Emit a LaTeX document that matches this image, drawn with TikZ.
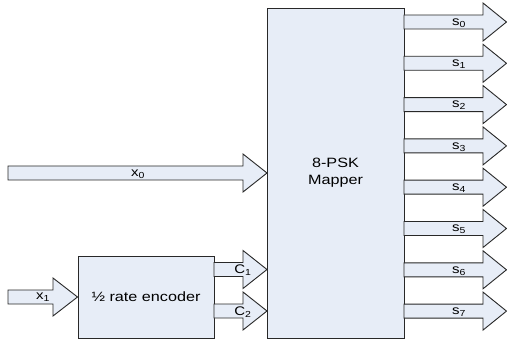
\documentclass[tikz,border=0pt]{standalone}
\usepackage{fontspec}
\setmainfont{Liberation Sans}
\usepackage{graphicx}
\definecolor{boxfill}{RGB}{231,237,247}
\definecolor{boxline}{RGB}{40,40,40}
\newcommand\wx[1]{\scalebox{1.2}[1]{#1}}
\newcommand\barrow[4]{\draw[shapebox] (#1,#4-7) -- (#2,#4-7) -- (#2,#4-19) -- (#3,#4) -- (#2,#4+19) -- (#2,#4+7) -- (#1,#4+7) -- cycle;}
\begin{document}
\begin{tikzpicture}[x=1pt,y=-1pt,
  shapebox/.style={draw=boxline, fill=boxfill, line width=0.9pt, line join=miter},
  blockbox/.style={draw=boxline, fill=boxfill, line width=0.9pt, inner sep=0pt},
  lbl/.style={font=\fontsize{13.5}{16}\selectfont, inner sep=0pt},
  sub/.style={font=\fontsize{12.5}{14}\selectfont, inner sep=0pt}]
\useasboundingbox (0,0) rectangle (507,345);
% mapper
\node[blockbox, minimum width=137pt, minimum height=330pt] (mapper) at (335.5,173) {};
\node[lbl, align=center] (mtext) at (335.5,173) {\wx{8-PSK}\\[1pt]\wx{Mapper}};
% encoder
\node[blockbox, minimum width=136pt, minimum height=82pt] (enc) at (146,297) {};
\node[lbl] (etext) at (146,297) {\wx{½ rate encoder}};
% input arrows
\barrow{8}{243}{267}{173}
\node[sub] (x0) at (138,174) {\wx{x\textsubscript{0}}};
\barrow{8}{53}{77.5}{297}
\node[sub] (x1) at (43,297) {\wx{x\textsubscript{1}}};
% encoder outputs
\barrow{214}{243}{267}{269.5}
\node[sub] (c1) at (243,270) {\wx{C\textsubscript{1}}};
\barrow{214}{243}{267}{311}
\node[sub] (c2) at (243,312) {\wx{C\textsubscript{2}}};
% mapper outputs
\foreach \i in {0,...,7}{
  \pgfmathsetmacro{\yc}{22+41.3*\i}
  \barrow{404}{483}{506.5}{\yc}
  \node[sub] (s\i) at (459,\yc+1) {\wx{s\textsubscript{\i}}};
}
\end{tikzpicture}
\end{document}
